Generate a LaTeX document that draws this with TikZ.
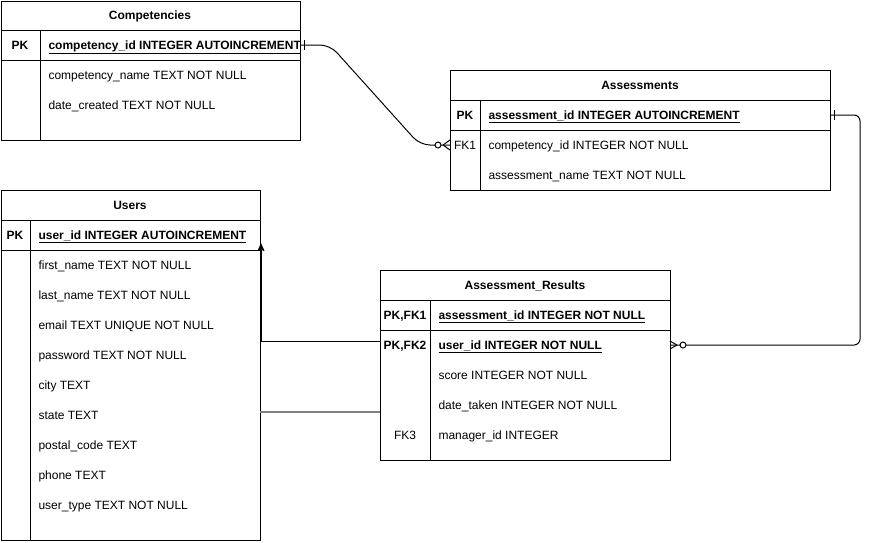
\documentclass[tikz,border=0pt]{standalone}
\usepackage{fontspec}
\setmainfont{Liberation Sans}
\usetikzlibrary{arrows.meta,positioning,calc}

\begin{document}
\begin{tikzpicture}[x=1pt,y=-1pt,line width=1pt,
	table/.style={draw,anchor=north west,inner sep=0pt,outer sep=0pt},
	title/.style={inner sep=0pt,text height=8.6pt,text depth=0pt,font=\bfseries\fontsize{12}{14}\selectfont},
	key/.style={inner sep=0pt,text height=8.6pt,text depth=0pt,font=\bfseries\fontsize{12}{14}\selectfont},
	fk/.style={inner sep=0pt,text height=8.6pt,text depth=0pt,font=\fontsize{12}{14}\selectfont},
	field/.style={anchor=west,inner sep=0pt,text height=8.6pt,text depth=0pt,font=\fontsize{12}{14}\selectfont},
	pkfield/.style={field,font=\bfseries\fontsize{12}{14}\selectfont}]
\useasboundingbox (0,0) rectangle (870,542);

% Competencies
\node[table,minimum width=299pt,minimum height=139pt] (comp) at (1,1) {};
\node[title] (comp-title) at (150,15) {Competencies};
\draw (comp.west |- 0,30) -- (comp.east |- 0,30) (comp.west |- 0,60) -- (comp.east |- 0,60)
	(40,30) -- (40,140);
\node[key] (comp-pk) at (20,45) {PK};
\node[pkfield] (comp-id) at (48,45) {\underline{competency\_id INTEGER AUTOINCREMENT}};
\node[field] (comp-name) at (48,75) {competency\_name TEXT NOT NULL};
\node[field] (comp-date) at (48,105) {date\_created TEXT NOT NULL};

% Assessments
\node[table,minimum width=380pt,minimum height=120pt] (asmt) at (450,70) {};
\node[title] (asmt-title) at (640,85) {Assessments};
\draw (asmt.west |- 0,100) -- (asmt.east |- 0,100) (asmt.west |- 0,130) -- (asmt.east |- 0,130)
	(480,100) -- (480,190);
\node[key] (asmt-pk) at (465,115) {PK};
\node[fk] (asmt-fk1) at (465,145) {FK1};
\node[pkfield] (asmt-id) at (488,115) {\underline{assessment\_id INTEGER AUTOINCREMENT}};
\node[field] (asmt-comp) at (488,145) {competency\_id INTEGER NOT NULL};
\node[field] (asmt-name) at (488,175) {assessment\_name TEXT NOT NULL};

% Users
\node[table,minimum width=259pt,minimum height=350pt] (users) at (1,190) {};
\node[title] (users-title) at (130,205) {Users};
\draw (users.west |- 0,220) -- (users.east |- 0,220) (users.west |- 0,250) -- (users.east |- 0,250)
	(30,220) -- (30,540);
\node[key] (users-pk) at (15,235) {PK};
\node[pkfield] (users-id) at (38,235) {\underline{user\_id INTEGER AUTOINCREMENT}};
\node[field] (users-first) at (38,265) {first\_name TEXT NOT NULL};
\node[field] (users-last) at (38,295) {last\_name TEXT NOT NULL};
\node[field] (users-email) at (38,325) {email TEXT UNIQUE NOT NULL};
\node[field] (users-pass) at (38,355) {password TEXT NOT NULL};
\node[field] (users-city) at (38,385) {city TEXT};
\node[field] (users-state) at (38,415) {state TEXT};
\node[field] (users-postal) at (38,445) {postal\_code TEXT};
\node[field] (users-phone) at (38,475) {phone TEXT};
\node[field] (users-type) at (38,505) {user\_type TEXT NOT NULL};

% Assessment_Results
\node[table,minimum width=290pt,minimum height=190pt] (res) at (380,270) {};
\node[title] (res-title) at (525,285) {Assessment\_Results};
\draw (res.west |- 0,300) -- (res.east |- 0,300) (res.west |- 0,330) -- (res.east |- 0,330)
	(430,300) -- (430,460);
\node[key] (res-pk1) at (405,315) {PK,FK1};
\node[key] (res-pk2) at (405,345) {PK,FK2};
\node[fk] (res-fk3) at (405,435) {FK3};
\node[pkfield] (res-asmt) at (438,315) {\underline{assessment\_id INTEGER NOT NULL}};
\node[pkfield] (res-user) at (438,345) {\underline{user\_id INTEGER NOT NULL}};
\node[field] (res-score) at (438,375) {score INTEGER NOT NULL};
\node[field] (res-date) at (438,405) {date\_taken INTEGER NOT NULL};
\node[field] (res-mgr) at (438,435) {manager\_id INTEGER};

% Competencies -> Assessments
\coordinate (c1) at (comp.east |- comp-id);
\coordinate (a1) at (asmt.west |- asmt-comp);
\draw[rounded corners=10pt] (c1) -- ++(30,0) -- ($(a1)+(-30,0)$) -- (a1);
\draw ($(c1)+(4,-5)$) -- ($(c1)+(4,5)$);
\draw ($(a1)+(-7,0)$) -- ($(a1)+(0,-5)$) ($(a1)+(-7,0)$) -- ($(a1)+(0,5)$);
\draw[fill=white] ($(a1)+(-12,0)$) circle (3pt);

% Assessments -> Assessment_Results
\coordinate (a2) at (asmt.east |- asmt-id);
\coordinate (r2) at (res.east |- res-user);
\draw[rounded corners=6pt] (a2) -- ++(30,0) |- (r2);
\draw ($(a2)+(4,-5)$) -- ($(a2)+(4,5)$);
\draw ($(r2)+(7,0)$) -- ($(r2)+(0,-4)$) ($(r2)+(7,0)$) -- ($(r2)+(0,4)$);
\draw[fill=white] ($(r2)+(13,0)$) circle (3pt);

% Assessment_Results -> Users
\coordinate (r3) at ($(res.west |- res-user)+(0,-4)$);
\coordinate (u3) at ($(users.east |- users-id)+(1,8)$);
\draw[-{Stealth[length=8pt,width=7pt,inset=1pt]}] (r3) -| (u3);

% Users -- Assessment_Results
\coordinate (u4) at ($(users.east |- users-state)+(0,-3)$);
\draw[gray,line width=1.5pt] (u4) -- (u4 -| res.west);
\end{tikzpicture}
\end{document}
